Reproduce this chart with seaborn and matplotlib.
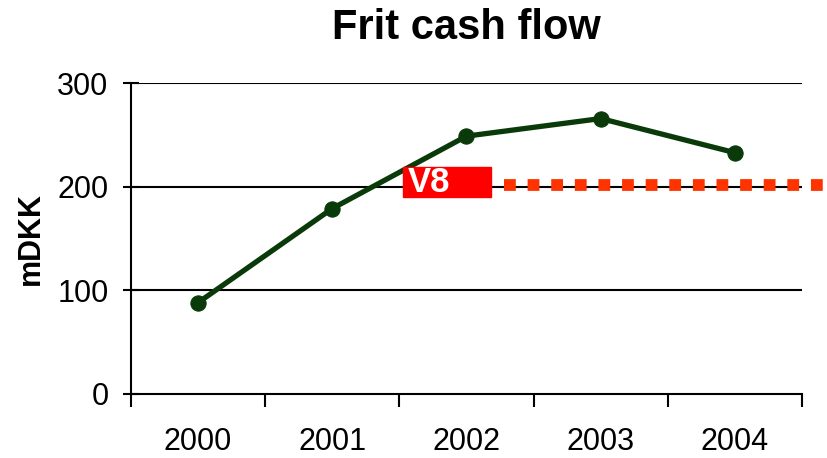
import pandas as pd
import matplotlib
matplotlib.use('Agg')
import matplotlib.pyplot as plt
import seaborn as sns
from matplotlib.patches import Rectangle

years = ['2000', '2001', '2002', '2003', '2004']
cash_flow = [88, 179, 249, 266, 233]
v8_level = 202
yticks = [0, 100, 200, 300]

sns.set_style('white')
plt.rcParams['font.family'] = ['Liberation Sans', 'DejaVu Sans']
plt.rcParams['text.color'] = 'black'
plt.rcParams['axes.labelcolor'] = 'black'
plt.rcParams['xtick.color'] = 'black'
plt.rcParams['ytick.color'] = 'black'

data = pd.DataFrame({'year': years, 'cash': cash_flow})

fig, ax = plt.subplots(figsize=(8.27, 4.58), dpi=100)
fig.subplots_adjust(left=0.158, right=0.970, top=0.818, bottom=0.140)

sns.lineplot(data=data, x='year', y='cash', ax=ax, color='#0a3a0a', linewidth=3.8,
             marker='o', markersize=11, markeredgecolor='#0a3a0a', zorder=4)

ax.set_xlim(-0.5, len(years) - 0.5)
ax.set_ylim(0, 300)
ax.set_yticks(yticks)
ax.set_yticklabels([str(t) for t in yticks], fontsize=22)
for t in yticks[1:]:
    ax.axhline(t, color='black', linewidth=1.5, zorder=1)

# category labels centred, tick marks on the boundaries
ax.set_xticks(range(len(years)))
ax.set_xticklabels(years, fontsize=22)
ax.set_xticks([i - 0.5 for i in range(len(years) + 1)], minor=True)
ax.tick_params(axis='x', which='major', bottom=True, length=0, pad=24)
ax.tick_params(axis='x', which='minor', bottom=True, length=9, width=1.5,
               direction='out', color='black')
ax.tick_params(axis='y', left=True, length=12, width=1.5, direction='inout',
               color='black', pad=10)

for side in ['top', 'right']:
    ax.spines[side].set_visible(False)
for side in ['left', 'bottom']:
    ax.spines[side].set_color('black')
    ax.spines[side].set_linewidth(1.5)

ax.set_xlabel('')
ax.set_ylabel('mDKK', fontsize=22, fontweight='bold', labelpad=8)
ax.set_title('Frit cash flow', fontsize=30, fontweight='bold', pad=32)

# V8 marker box and dotted level line
ax.add_patch(Rectangle((1.53, 190), 0.65, 29, color='#ff0000', zorder=5, clip_on=False))
ax.text(1.56, 204, 'V8', color='white', fontsize=25, fontweight='bold',
        ha='left', va='center', zorder=6)
ax.plot([2.28, 4.7], [v8_level, v8_level], color='#ff3300', linewidth=8.5,
        linestyle=(0, (1, 1)), dash_capstyle='butt', clip_on=False, zorder=5)

plt.savefig('out.png', dpi=100)
